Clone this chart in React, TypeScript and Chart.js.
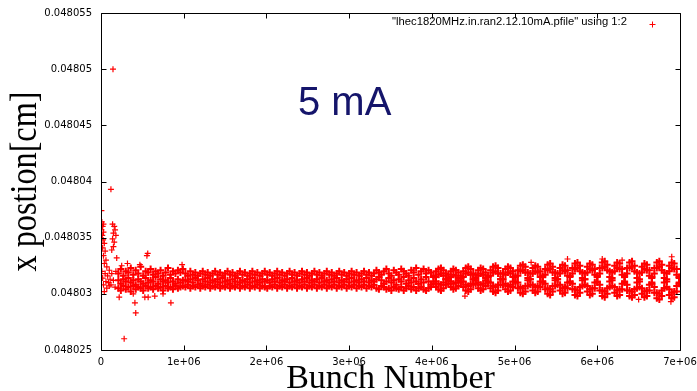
import React, { useEffect, useRef } from 'react';
import { Chart, registerables } from 'chart.js';

Chart.register(...registerables);

// ---- axis ticks / labels ----
const xTickValues = [0, 1e6, 2e6, 3e6, 4e6, 5e6, 6e6, 7e6];
const xTickLabels = ['0', '1e+06', '2e+06', '3e+06', '4e+06', '5e+06', '6e+06', '7e+06'];
const yTickValues = [0.048025, 0.04803, 0.048035, 0.04804, 0.048045, 0.04805, 0.048055];
const yTickLabels = ['0.048025', '0.04803', '0.048035', '0.04804', '0.048045', '0.04805', '0.048055'];

const seriesLabel = '"lhec1820MHz.in.ran2.12.10mA.pfile" using 1:2';
const annotationText = '5 mA';
const xTitle = 'Bunch Number';
const yTitle = 'x postion[cm]';

// ---- data: [bunch number, x position] ----
const transientPoints: number[][] = [
  [0.005e6, 0.0480374], [0.01e6, 0.0480364], [0.03e6, 0.0480362], [0.02e6, 0.048036],
  [0.005e6, 0.0480357], [0.03e6, 0.0480355], [0.015e6, 0.0480352], [0.025e6, 0.0480348],
  [0.04e6, 0.0480345], [0.02e6, 0.0480341], [0.05e6, 0.0480338], [0.03e6, 0.0480334],
  [0.06e6, 0.048033], [0.04e6, 0.0480327], [0.07e6, 0.0480324], [0.01e6, 0.048032],
  [0.05e6, 0.0480318], [0.02e6, 0.0480314], [0.08e6, 0.0480316], [0.06e6, 0.0480311],
  [0.03e6, 0.0480308], [0.09e6, 0.048031], [0.07e6, 0.0480305], [0.1e6, 0.0480307],
  [0.04e6, 0.0480302], [0.11e6, 0.0480313], [0.12e6, 0.0480308], [0.13e6, 0.0480318],
  [0.15e6, 0.0480312], [0.17e6, 0.0480306], [0.18e6, 0.048032], [0.1e6, 0.0480321],
  [0.12e6, 0.0480393], [0.145e6, 0.04805], [0.14e6, 0.0480362], [0.16e6, 0.048036],
  [0.17e6, 0.0480357], [0.15e6, 0.0480354], [0.18e6, 0.0480352], [0.14e6, 0.0480349],
  [0.16e6, 0.0480346], [0.15e6, 0.0480342], [0.13e6, 0.0480339], [0.19e6, 0.0480332],
  [0.22e6, 0.0480297], [0.28e6, 0.048026], [0.39e6, 0.04803], [0.41e6, 0.0480292],
  [0.42e6, 0.0480283], [0.53e6, 0.0480297], [0.57e6, 0.0480297], [0.555e6, 0.0480334],
  [0.565e6, 0.0480336], [0.845e6, 0.0480292], [0.98e6, 0.0480326], [0.25e6, 0.0480325],
  [0.32e6, 0.0480327], [0.47e6, 0.0480326], [0.65e6, 0.0480298], [0.75e6, 0.04803],
];

// rows: [bunch number, y, y, y]
const bandEarly: number[][] = [
  [21e4, 0.0480318, 0.0480312, 0.0480305], [24e4, 0.0480322, 0.0480309, 0.0480303],
  [27e4, 0.0480316, 0.0480313, 0.0480307], [30e4, 0.048032, 0.0480311, 0.0480304],
  [33e4, 0.0480319, 0.0480314, 0.0480306], [36e4, 0.0480323, 0.048031, 0.0480302],
  [39e4, 0.0480317, 0.0480312, 0.0480307], [42e4, 0.0480321, 0.0480308, 0.0480304],
  [45e4, 0.0480318, 0.0480313, 0.0480306], [48e4, 0.0480324, 0.0480311, 0.0480305],
  [51e4, 0.0480316, 0.0480309, 0.0480303], [54e4, 0.048032, 0.0480314, 0.0480307],
  [57e4, 0.0480319, 0.048031, 0.0480305], [60e4, 0.0480322, 0.0480312, 0.0480306],
  [63e4, 0.0480317, 0.0480311, 0.0480304], [66e4, 0.048032, 0.0480315, 0.0480307],
  [69e4, 0.0480318, 0.0480309, 0.0480305], [72e4, 0.0480321, 0.0480313, 0.0480306],
  [75e4, 0.0480316, 0.0480311, 0.0480303], [78e4, 0.0480319, 0.0480312, 0.0480307],
  [81e4, 0.0480323, 0.048031, 0.0480305], [84e4, 0.0480317, 0.0480314, 0.0480306],
  [87e4, 0.048032, 0.0480311, 0.0480304], [90e4, 0.0480318, 0.0480309, 0.0480307],
  [93e4, 0.0480321, 0.0480313, 0.0480305], [96e4, 0.0480319, 0.048031, 0.0480306],
  [99e4, 0.0480322, 0.0480312, 0.0480307],
];

const bandMiddle: number[][] = [
  [102e4, 0.0480318, 0.0480312, 0.0480306], [105e4, 0.0480316, 0.0480311, 0.0480308],
  [108e4, 0.048032, 0.0480313, 0.0480305], [111e4, 0.0480317, 0.048031, 0.0480307],
  [114e4, 0.0480319, 0.0480314, 0.0480306], [117e4, 0.0480316, 0.0480312, 0.0480308],
  [120e4, 0.0480318, 0.0480309, 0.0480305], [123e4, 0.048032, 0.0480313, 0.0480307],
  [126e4, 0.0480317, 0.0480311, 0.0480306], [129e4, 0.0480319, 0.0480314, 0.0480308],
  [132e4, 0.0480316, 0.048031, 0.0480305], [135e4, 0.0480318, 0.0480312, 0.0480307],
  [138e4, 0.048032, 0.0480311, 0.0480306], [141e4, 0.0480317, 0.0480313, 0.0480308],
  [144e4, 0.0480319, 0.048031, 0.0480305], [147e4, 0.0480316, 0.0480314, 0.0480307],
  [150e4, 0.0480318, 0.0480311, 0.0480306], [153e4, 0.048032, 0.0480312, 0.0480308],
  [156e4, 0.0480317, 0.0480309, 0.0480305], [159e4, 0.0480319, 0.0480313, 0.0480307],
  [162e4, 0.0480316, 0.0480311, 0.0480306], [165e4, 0.0480318, 0.0480314, 0.0480308],
  [168e4, 0.048032, 0.048031, 0.0480305], [171e4, 0.0480317, 0.0480312, 0.0480307],
  [174e4, 0.0480319, 0.0480311, 0.0480306], [177e4, 0.0480316, 0.0480313, 0.0480308],
  [180e4, 0.0480318, 0.048031, 0.0480305], [183e4, 0.048032, 0.0480314, 0.0480307],
  [186e4, 0.0480317, 0.0480311, 0.0480306], [189e4, 0.0480319, 0.0480312, 0.0480308],
  [192e4, 0.0480316, 0.048031, 0.0480305], [195e4, 0.0480318, 0.0480313, 0.0480307],
  [198e4, 0.048032, 0.0480311, 0.0480306], [201e4, 0.0480317, 0.0480312, 0.0480305],
  [204e4, 0.0480319, 0.048031, 0.0480307], [207e4, 0.0480316, 0.0480313, 0.0480306],
  [210e4, 0.0480318, 0.0480311, 0.0480308], [213e4, 0.048032, 0.0480314, 0.0480305],
  [216e4, 0.0480317, 0.048031, 0.0480307], [219e4, 0.0480319, 0.0480312, 0.0480306],
  [222e4, 0.0480316, 0.0480311, 0.0480308], [225e4, 0.0480318, 0.0480313, 0.0480305],
  [228e4, 0.048032, 0.048031, 0.0480307], [231e4, 0.0480317, 0.0480314, 0.0480306],
  [234e4, 0.0480319, 0.0480311, 0.0480308], [237e4, 0.0480316, 0.0480312, 0.0480305],
  [240e4, 0.0480318, 0.048031, 0.0480307], [243e4, 0.048032, 0.0480313, 0.0480306],
  [246e4, 0.0480317, 0.0480311, 0.0480308], [249e4, 0.0480319, 0.0480314, 0.0480305],
  [252e4, 0.0480316, 0.048031, 0.0480307], [255e4, 0.0480318, 0.0480312, 0.0480306],
  [258e4, 0.048032, 0.0480311, 0.0480308], [261e4, 0.0480317, 0.0480313, 0.0480305],
  [264e4, 0.0480319, 0.048031, 0.0480307], [267e4, 0.0480316, 0.0480314, 0.0480306],
  [270e4, 0.0480318, 0.0480311, 0.0480308], [273e4, 0.048032, 0.0480312, 0.0480305],
  [276e4, 0.0480317, 0.048031, 0.0480307], [279e4, 0.0480319, 0.0480313, 0.0480306],
  [282e4, 0.0480316, 0.0480311, 0.0480308], [285e4, 0.0480318, 0.0480314, 0.0480305],
  [288e4, 0.048032, 0.048031, 0.0480307], [291e4, 0.0480317, 0.0480312, 0.0480306],
  [294e4, 0.0480319, 0.0480311, 0.0480308], [297e4, 0.0480316, 0.0480313, 0.0480305],
  [300e4, 0.0480318, 0.048031, 0.0480307], [303e4, 0.048032, 0.0480314, 0.0480306],
  [306e4, 0.0480317, 0.0480311, 0.0480308], [309e4, 0.0480319, 0.0480312, 0.0480305],
  [312e4, 0.0480316, 0.048031, 0.0480307], [315e4, 0.0480318, 0.0480313, 0.0480306],
  [318e4, 0.048032, 0.0480311, 0.0480308], [321e4, 0.0480317, 0.0480314, 0.0480305],
  [324e4, 0.0480319, 0.048031, 0.0480307], [327e4, 0.0480316, 0.0480312, 0.0480306],
  [330e4, 0.0480318, 0.0480311, 0.0480308], [333e4, 0.0480321, 0.0480313, 0.0480305],
  [336e4, 0.0480319, 0.0480315, 0.0480304], [339e4, 0.0480317, 0.0480312, 0.0480307],
  [342e4, 0.048032, 0.0480309, 0.0480306], [345e4, 0.0480322, 0.0480311, 0.0480304],
  [348e4, 0.0480318, 0.0480314, 0.0480305], [351e4, 0.0480316, 0.048031, 0.0480303],
  [354e4, 0.0480321, 0.0480312, 0.0480306], [357e4, 0.0480319, 0.0480308, 0.0480305],
  [360e4, 0.0480317, 0.0480313, 0.0480304], [363e4, 0.0480322, 0.0480311, 0.0480306],
  [366e4, 0.048032, 0.0480315, 0.0480303], [369e4, 0.0480318, 0.0480309, 0.0480305],
  [372e4, 0.0480316, 0.0480312, 0.0480307], [375e4, 0.0480321, 0.048031, 0.0480304],
  [378e4, 0.0480319, 0.0480314, 0.0480306], [381e4, 0.0480323, 0.0480311, 0.0480303],
  [384e4, 0.0480317, 0.0480309, 0.0480305], [387e4, 0.048032, 0.0480313, 0.0480306],
  [390e4, 0.0480322, 0.048031, 0.0480304], [393e4, 0.0480318, 0.0480315, 0.0480303],
  [396e4, 0.0480321, 0.0480311, 0.0480305], [399e4, 0.0480319, 0.0480308, 0.0480306],
];

// rows: [bunch number, y, y, y, y] (braided region)
const bandLate: number[][] = [
  [402e4, 0.0480316, 0.0480311, 0.0480315, 0.0480309], [405e4, 0.048032, 0.0480315, 0.0480311, 0.0480306],
  [408e4, 0.0480322, 0.0480317, 0.0480309, 0.0480304], [411e4, 0.0480323, 0.0480318, 0.0480308, 0.0480303],
  [414e4, 0.0480321, 0.0480316, 0.048031, 0.0480305], [417e4, 0.0480318, 0.0480313, 0.0480313, 0.0480308],
  [420e4, 0.0480314, 0.0480309, 0.0480317, 0.0480312], [423e4, 0.0480311, 0.0480306, 0.048032, 0.0480315],
  [426e4, 0.0480309, 0.0480304, 0.0480322, 0.0480317], [429e4, 0.048031, 0.0480305, 0.0480321, 0.0480316],
  [432e4, 0.0480312, 0.0480307, 0.0480319, 0.0480314], [435e4, 0.0480316, 0.0480311, 0.0480314, 0.048031],
  [438e4, 0.048032, 0.0480315, 0.0480311, 0.0480306], [441e4, 0.0480323, 0.0480318, 0.0480308, 0.0480303],
  [444e4, 0.0480324, 0.0480319, 0.0480307, 0.0480302], [447e4, 0.0480322, 0.0480317, 0.0480309, 0.0480304],
  [450e4, 0.0480318, 0.0480313, 0.0480313, 0.0480308], [453e4, 0.0480314, 0.0480309, 0.0480317, 0.0480312],
  [456e4, 0.048031, 0.0480305, 0.0480321, 0.0480316], [459e4, 0.0480308, 0.0480303, 0.0480323, 0.0480318],
  [462e4, 0.0480309, 0.0480304, 0.0480322, 0.0480317], [465e4, 0.0480312, 0.0480307, 0.0480319, 0.0480314],
  [468e4, 0.0480316, 0.0480311, 0.0480315, 0.048031], [471e4, 0.0480321, 0.0480316, 0.048031, 0.0480305],
  [474e4, 0.0480324, 0.0480319, 0.0480307, 0.0480302], [477e4, 0.0480325, 0.048032, 0.0480306, 0.0480301],
  [480e4, 0.0480323, 0.0480318, 0.0480308, 0.0480303], [483e4, 0.0480318, 0.0480313, 0.0480313, 0.0480308],
  [486e4, 0.0480313, 0.0480308, 0.0480318, 0.0480313], [489e4, 0.0480309, 0.0480304, 0.0480322, 0.0480317],
  [492e4, 0.0480307, 0.0480302, 0.0480324, 0.0480319], [495e4, 0.0480308, 0.0480303, 0.0480323, 0.0480318],
  [498e4, 0.0480311, 0.0480306, 0.048032, 0.0480315], [501e4, 0.0480316, 0.0480311, 0.0480315, 0.048031],
  [504e4, 0.0480321, 0.0480316, 0.048031, 0.0480305], [507e4, 0.0480325, 0.048032, 0.0480306, 0.0480301],
  [510e4, 0.0480326, 0.0480321, 0.0480305, 0.04803], [513e4, 0.0480324, 0.0480319, 0.0480307, 0.0480302],
  [516e4, 0.0480319, 0.0480314, 0.0480312, 0.0480307], [519e4, 0.0480313, 0.0480308, 0.0480318, 0.0480313],
  [522e4, 0.0480308, 0.0480303, 0.0480323, 0.0480318], [525e4, 0.0480306, 0.0480301, 0.0480325, 0.048032],
  [528e4, 0.0480307, 0.0480302, 0.0480324, 0.0480319], [531e4, 0.0480311, 0.0480306, 0.048032, 0.0480315],
  [534e4, 0.0480316, 0.0480311, 0.0480315, 0.048031], [537e4, 0.0480322, 0.0480317, 0.0480309, 0.0480304],
  [540e4, 0.0480326, 0.0480321, 0.0480305, 0.04803], [543e4, 0.0480327, 0.0480322, 0.0480304, 0.0480299],
  [546e4, 0.0480324, 0.0480319, 0.0480307, 0.0480302], [549e4, 0.0480319, 0.0480314, 0.0480312, 0.0480307],
  [552e4, 0.0480313, 0.0480308, 0.0480318, 0.0480313], [555e4, 0.0480308, 0.0480303, 0.0480323, 0.0480318],
  [558e4, 0.0480305, 0.04803, 0.0480326, 0.0480321], [561e4, 0.0480306, 0.0480301, 0.0480325, 0.048032],
  [564e4, 0.048031, 0.0480305, 0.0480321, 0.0480316], [567e4, 0.0480316, 0.0480311, 0.0480315, 0.048031],
  [570e4, 0.0480323, 0.0480318, 0.0480309, 0.0480304], [573e4, 0.0480327, 0.0480322, 0.0480304, 0.0480299],
  [576e4, 0.0480328, 0.0480323, 0.0480303, 0.0480298], [579e4, 0.0480325, 0.048032, 0.0480306, 0.0480301],
  [582e4, 0.0480319, 0.0480314, 0.0480312, 0.0480307], [585e4, 0.0480313, 0.0480308, 0.0480318, 0.0480313],
  [588e4, 0.0480307, 0.0480302, 0.0480324, 0.0480319], [591e4, 0.0480304, 0.0480299, 0.0480327, 0.0480322],
  [594e4, 0.0480305, 0.04803, 0.0480326, 0.0480321], [597e4, 0.048031, 0.0480305, 0.0480322, 0.0480317],
  [600e4, 0.0480316, 0.0480311, 0.0480315, 0.048031], [603e4, 0.0480323, 0.0480318, 0.0480308, 0.0480303],
  [606e4, 0.0480328, 0.0480323, 0.0480303, 0.0480298], [609e4, 0.0480329, 0.0480324, 0.0480302, 0.0480297],
  [612e4, 0.0480326, 0.0480321, 0.0480305, 0.04803], [615e4, 0.048032, 0.0480315, 0.0480311, 0.0480306],
  [618e4, 0.0480312, 0.0480307, 0.0480319, 0.0480314], [621e4, 0.0480306, 0.0480301, 0.0480325, 0.048032],
  [624e4, 0.0480303, 0.0480298, 0.0480328, 0.0480323], [627e4, 0.0480304, 0.0480299, 0.0480327, 0.0480322],
  [630e4, 0.0480309, 0.0480304, 0.0480322, 0.0480317], [633e4, 0.0480316, 0.0480311, 0.0480315, 0.048031],
  [636e4, 0.0480323, 0.0480318, 0.0480308, 0.0480303], [639e4, 0.0480328, 0.0480323, 0.0480303, 0.0480298],
  [642e4, 0.0480329, 0.0480324, 0.0480302, 0.0480297], [645e4, 0.0480325, 0.048032, 0.0480304, 0.0480299],
  [648e4, 0.0480319, 0.0480314, 0.048031, 0.0480305], [651e4, 0.0480311, 0.0480306, 0.0480318, 0.0480313],
  [654e4, 0.0480305, 0.04803, 0.0480324, 0.0480319], [657e4, 0.0480302, 0.0480297, 0.0480327, 0.0480322],
  [660e4, 0.0480303, 0.0480298, 0.0480326, 0.0480321], [663e4, 0.0480308, 0.0480303, 0.0480321, 0.0480316],
  [666e4, 0.0480315, 0.048031, 0.0480314, 0.0480309], [669e4, 0.0480323, 0.0480318, 0.0480306, 0.0480301],
  [672e4, 0.0480328, 0.0480323, 0.0480301, 0.0480296], [675e4, 0.0480329, 0.0480324, 0.04803, 0.0480295],
  [678e4, 0.0480326, 0.0480321, 0.0480303, 0.0480298], [681e4, 0.0480319, 0.0480314, 0.048031, 0.0480305],
  [684e4, 0.0480311, 0.0480306, 0.0480318, 0.0480313], [687e4, 0.0480304, 0.0480299, 0.0480325, 0.048032],
  [690e4, 0.0480301, 0.0480296, 0.0480328, 0.0480323], [693e4, 0.0480302, 0.0480297, 0.0480327, 0.0480322],
  [696e4, 0.0480307, 0.0480302, 0.0480322, 0.0480317], [699e4, 0.0480315, 0.048031, 0.0480314, 0.0480309],
];

const lateOutliers: number[][] = [
  [4.4e6, 0.0480298], [5.2e6, 0.0480328], [5.64e6, 0.0480331], [6.06e6, 0.0480331],
  [6.5e6, 0.0480295], [6.89e6, 0.0480293], [6.9e6, 0.0480333], [6.3e6, 0.048033],
];

const MARK_COLOR = '#ff0000';

function rowsToPoints(rows: number[][]) {
  const pts: { x: number; y: number }[] = [];
  for (const [x, ...ys] of rows) for (const y of ys) pts.push({ x, y });
  return pts;
}

function pairsToPoints(pairs: number[][]) {
  return pairs.map(([x, y]) => ({ x, y }));
}

const overlayPlugin = {
  id: 'gnuplotOverlay',
  afterDraw(chart: any) {
    const { ctx, chartArea: a, scales } = chart;
    const L = Math.round(a.left) + 0.5;
    const R = Math.round(a.right) + 0.5;
    const T = Math.round(a.top) + 0.5;
    const B = Math.round(a.bottom) + 0.5;
    ctx.save();
    ctx.strokeStyle = '#000';
    ctx.lineWidth = 1;
    ctx.beginPath();
    ctx.rect(L, T, R - L, B - T);
    // inward ticks, mirrored
    const tl = 5;
    for (const v of xTickValues) {
      const px = Math.round(scales.x.getPixelForValue(v)) + 0.5;
      ctx.moveTo(px, B);
      ctx.lineTo(px, B - tl);
      ctx.moveTo(px, T);
      ctx.lineTo(px, T + tl);
    }
    for (const v of yTickValues) {
      const py = Math.round(scales.y.getPixelForValue(v)) + 0.5;
      ctx.moveTo(L, py);
      ctx.lineTo(L + tl, py);
      ctx.moveTo(R, py);
      ctx.lineTo(R - tl, py);
    }
    ctx.stroke();

    // legend text + sample
    ctx.fillStyle = '#000';
    ctx.font = '10px "Liberation Sans", Arial, sans-serif';
    ctx.textBaseline = 'alphabetic';
    ctx.textAlign = 'left';
    const lw = ctx.measureText(seriesLabel).width;
    ctx.save();
    ctx.translate(a.left + 291, a.top + 12);
    ctx.scale(235 / lw, 1);
    ctx.fillText(seriesLabel, 0, 0);
    ctx.restore();
    const sx = a.left + 551.5;
    const sy = a.top + 11.5;
    ctx.strokeStyle = MARK_COLOR;
    ctx.beginPath();
    ctx.moveTo(sx - 3, sy);
    ctx.lineTo(sx + 3, sy);
    ctx.moveTo(sx, sy - 3);
    ctx.lineTo(sx, sy + 3);
    ctx.stroke();

    // "5 mA" annotation
    ctx.fillStyle = '#15156b';
    ctx.font = '40px "Liberation Sans", Arial, sans-serif';
    ctx.fillText(annotationText, a.left + 197, a.top + 102);

    // axis titles
    ctx.fillStyle = '#000';
    ctx.font = '34px "Liberation Serif", "Times New Roman", serif';
    ctx.textAlign = 'center';
    ctx.fillText(xTitle, (a.left + a.right) / 2, 388);

    ctx.font = '38px "Liberation Serif", "Times New Roman", serif';
    const yw = ctx.measureText(yTitle).width;
    ctx.save();
    ctx.translate(35.5, (a.top + a.bottom) / 2);
    ctx.rotate(-Math.PI / 2);
    ctx.scale(180 / yw, 1);
    ctx.fillText(yTitle, 0, 0);
    ctx.restore();

    ctx.restore();
  },
};

export default function App() {
  const canvasRef = useRef<HTMLCanvasElement | null>(null);

  useEffect(() => {
    const canvas = canvasRef.current;
    if (!canvas) return;
    const tickFont = { family: '"DejaVu Sans", sans-serif', size: 10 };
    const common = {
      pointStyle: 'cross',
      borderColor: MARK_COLOR,
      backgroundColor: MARK_COLOR,
    };
    const chart = new Chart(canvas, {
      type: 'scatter',
      data: {
        datasets: [
          {
            ...common,
            label: seriesLabel,
            data: [...rowsToPoints(bandEarly), ...rowsToPoints(bandMiddle), ...rowsToPoints(bandLate)],
            radius: 3.5,
            borderWidth: 2,
          },
          {
            ...common,
            label: seriesLabel,
            data: [...pairsToPoints(transientPoints), ...pairsToPoints(lateOutliers)],
            radius: 3,
            borderWidth: 1.2,
          },
        ],
      },
      options: {
        responsive: false,
        animation: false,
        devicePixelRatio: 1,
        layout: { padding: { left: 0, right: 17, top: 13, bottom: 0 } },
        plugins: { legend: { display: false }, tooltip: { enabled: false } },
        scales: {
          x: {
            type: 'linear',
            min: 0,
            max: 7e6,
            afterBuildTicks: (s: any) => {
              s.ticks = xTickValues.map((value) => ({ value }));
            },
            afterFit: (s: any) => {
              s.height = 41;
              s.paddingLeft = 0;
              s.paddingRight = 0;
            },
            grid: { display: false, drawTicks: false },
            border: { display: false },
            ticks: {
              padding: 6,
              maxRotation: 0,
              autoSkip: false,
              color: '#000',
              font: tickFont,
              callback: (_v: any, i: number) => xTickLabels[i],
            },
          },
          y: {
            type: 'linear',
            min: 0.048025,
            max: 0.048055,
            afterBuildTicks: (s: any) => {
              s.ticks = yTickValues.map((value) => ({ value }));
            },
            afterFit: (s: any) => {
              s.width = 101;
              s.paddingTop = 0;
              s.paddingBottom = 0;
            },
            grid: { display: false, drawTicks: false },
            border: { display: false },
            ticks: {
              padding: 9,
              autoSkip: false,
              color: '#000',
              font: tickFont,
              callback: (_v: any, i: number) => yTickLabels[i],
            },
          },
        },
      },
      plugins: [overlayPlugin],
    } as any);
    return () => chart.destroy();
  }, []);

  return (
    <div style={{ position: 'absolute', left: 0, top: 0, width: 697, height: 391, background: '#fff' }}>
      <canvas ref={canvasRef} width={697} height={391} style={{ display: 'block', width: 697, height: 391 }} />
    </div>
  );
}
